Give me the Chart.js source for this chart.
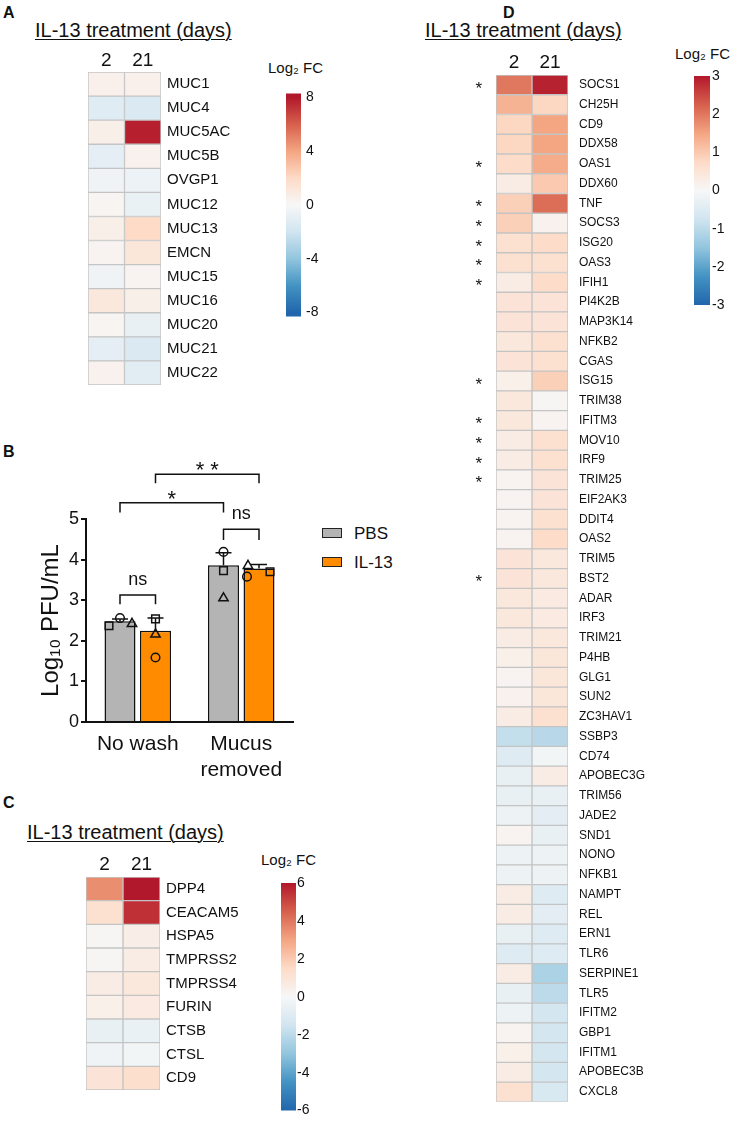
<!DOCTYPE html>
<html>
<head>
<meta charset="utf-8">
<script src="https://cdn.jsdelivr.net/npm/chart.js@4.4.1/dist/chart.umd.min.js"></script>
<style>
  body { margin: 0; background: #fff; width: 737px; height: 1133px; position: relative; overflow: hidden;
         font-family: "Liberation Sans", Arial, Helvetica, sans-serif; color: #111; }
  canvas { position: absolute; }
  .txt { position: absolute; white-space: nowrap; line-height: 1; }
  .panel { font-weight: bold; font-size: 16px; }
  .title { font-size: 20px; text-decoration: underline; text-underline-offset: 2px; text-decoration-thickness: 1px; }
  .fc { font-size: 15px; }
  .key { position: absolute; width: 18px; height: 8px; border: 1.5px solid #222; }
</style>
</head>
<body>
<div class="txt panel" style="left:3px;top:5px">A</div>
<div class="txt title" style="left:35px;top:20px">IL-13 treatment (days)</div>
<div class="txt fc" style="left:268px;top:60px">Log₂ FC</div>

<div class="txt panel" style="left:3px;top:444px">B</div>
<div class="key" style="left:322px;top:528px;background:#b4b4b4"></div>
<div class="txt" style="left:354px;top:525px;font-size:17px">PBS</div>
<div class="key" style="left:322px;top:557px;background:#ff8c00"></div>
<div class="txt" style="left:354px;top:554px;font-size:17px">IL-13</div>

<div class="txt panel" style="left:3px;top:795px">C</div>
<div class="txt title" style="left:27px;top:822px">IL-13 treatment (days)</div>
<div class="txt fc" style="left:261px;top:852px">Log₂ FC</div>

<div class="txt panel" style="left:503px;top:5px">D</div>
<div class="txt title" style="left:425px;top:20px">IL-13 treatment (days)</div>
<div class="txt fc" style="left:675px;top:46px">Log₂ FC</div>

<canvas id="heatA" width="260" height="400" style="left:0;top:0"></canvas>
<canvas id="barA" width="70" height="250" style="left:270px;top:80px"></canvas>
<canvas id="chartB" width="300" height="350" style="left:0;top:440px"></canvas>
<canvas id="heatC" width="260" height="305" style="left:0;top:800px"></canvas>
<canvas id="barC" width="70" height="250" style="left:265px;top:870px"></canvas>
<canvas id="heatD" width="300" height="1126" style="left:430px;top:0"></canvas>
<canvas id="barD" width="57" height="260" style="left:680px;top:60px"></canvas>

<script>
// Column labels (days of IL-13 treatment)
const days = ["2", "21"];

// Panel A: mucin genes, log2 fold change
const genesA = ["MUC1", "MUC4", "MUC5AC", "MUC5B", "OVGP1", "MUC12", "MUC13", "EMCN", "MUC15", "MUC16", "MUC20", "MUC21", "MUC22"];
const fcA2 = [0.5, -1.2, 0.6, -1.0, -0.4, 0.2, 0.6, 0.3, -0.4, 1.1, 0.2, -1.0, 0.4];
const fcA21 = [0.5, -1.5, 7.8, 0.4, -0.6, -0.7, 2.0, 1.2, 0.3, 0.6, -0.8, -1.5, -1.1];
const ticksA = [-8, -4, 0, 4, 8];

// Panel B: virus titre per condition
const groups = ["No wash", ["Mucus", "removed"]];
const pbsMean = [2.48, 3.86];
const il13Mean = [2.25, 3.78];
const pbsSd = [0.06, 0.31];
const il13Sd = [0.31, 0.10];
// donor points, order: square, circle, triangle
const donorShapes = ["rect", "circle", "triangle"];
const pbsPoints = [[2.37, 2.56, 2.42], [3.73, 4.19, 3.05]];
const il13Points = [[2.54, 1.59, 2.16], [3.70, 3.58, 3.85]];
const brackets = [
  { from: [0, 0], to: [1, 0], y: 3.13, drop: 0.23, text: "ns" },
  { from: [0, 0], to: [0, 1], y: 5.40, drop: 0.24, text: "*" },
  { from: [1, 0], to: [1, 1], y: 6.10, drop: 0.22, text: "* *" },
  { from: [0, 1], to: [1, 1], y: 4.75, drop: 0.27, text: "ns" },
];

// Panel C: entry factors
const genesC = ["DPP4", "CEACAM5", "HSPA5", "TMPRSS2", "TMPRSS4", "FURIN", "CTSB", "CTSL", "CD9"];
const fcC2 = [3.5, 1.2, 0.1, 0.1, 0.6, 0.4, -0.6, -0.3, 1.0];
const fcC21 = [6.0, 5.5, 0.5, 0.6, 0.8, 0.7, -0.5, -0.2, 1.3];
const ticksC = [-6, -4, -2, 0, 2, 4, 6];

// Panel D: innate immune genes
const genesD = ["SOCS1", "CH25H", "CD9", "DDX58", "OAS1", "DDX60", "TNF", "SOCS3", "ISG20", "OAS3", "IFIH1",
  "PI4K2B", "MAP3K14", "NFKB2", "CGAS", "ISG15", "TRIM38", "IFITM3", "MOV10", "IRF9", "TRIM25", "EIF2AK3",
  "DDIT4", "OAS2", "TRIM5", "BST2", "ADAR", "IRF3", "TRIM21", "P4HB", "GLG1", "SUN2", "ZC3HAV1", "SSBP3",
  "CD74", "APOBEC3G", "TRIM56", "JADE2", "SND1", "NONO", "NFKB1", "NAMPT", "REL", "ERN1", "TLR6",
  "SERPINE1", "TLR5", "IFITM2", "GBP1", "IFITM1", "APOBEC3B", "CXCL8"];
const fcD2 = [2.0, 1.3, 0.8, 0.8, 0.7, 0.3, 0.9, 0.9, 0.6, 0.6, 0.3,
  0.5, 0.5, 0.4, 0.5, 0.2, 0.4, 0.4, 0.3, 0.3, 0.1, 0.1,
  0.1, 0.1, 0.5, 0.5, 0.4, 0.4, 0.3, 0.2, 0.1, 0.15, 0.3, -0.9,
  -0.5, -0.3, -0.3, -0.2, 0.1, -0.2, -0.2, 0.3, 0.3, -0.3, -0.5,
  0.3, -0.3, -0.2, 0.1, 0.2, 0.3, 0.6];
const fcD21 = [2.9, 0.8, 1.5, 1.5, 1.4, 1.0, 2.1, 0.15, 0.7, 0.6, 0.7,
  0.5, 0.5, 0.6, 0.6, 0.9, 0.05, 0.1, 0.6, 0.6, 0.5, 0.5,
  0.6, 0.7, 0.4, 0.4, 0.35, 0.35, 0.4, 0.45, 0.45, 0.45, 0.6, -1.05,
  -0.1, 0.3, -0.3, -0.4, -0.3, -0.2, -0.2, -0.5, -0.4, -0.5, -0.5,
  -1.2, -1.0, -0.7, -0.7, -0.7, -0.7, -0.6];
const sigD = ["SOCS1", "OAS1", "TNF", "SOCS3", "ISG20", "OAS3", "IFIH1", "ISG15", "IFITM3", "MOV10", "IRF9", "TRIM25", "BST2"];
const ticksD = [-3, -2, -1, 0, 1, 2, 3];

// Diverging red-blue palette
const RDBU = [[33, 102, 172], [67, 147, 195], [146, 197, 222], [209, 229, 240], [247, 247, 247],
  [253, 219, 199], [244, 165, 130], [214, 96, 77], [178, 24, 43]];

const INK = "#111";
const FONT = '"Liberation Sans", Arial, Helvetica, sans-serif';
Chart.defaults.font.family = FONT;
Chart.defaults.color = INK;
Chart.defaults.animation = false;
Chart.defaults.responsive = false;
Chart.defaults.plugins.legend.display = false;
Chart.defaults.plugins.tooltip.enabled = false;

const HIDDEN_GRID = { display: false, drawTicks: false };

const heatColor = (v, vmax) => {
  const t = Math.max(-1, Math.min(1, v / vmax));
  const p = ((t + 1) / 2) * (RDBU.length - 1);
  const i = Math.min(Math.floor(p), RDBU.length - 2);
  const f = p - i;
  const c = RDBU[i].map((a, k) => Math.round(a + (RDBU[i + 1][k] - a) * f));
  return `rgb(${c.join(",")})`;
};

// Heatmap as stacked horizontal bars, one cell per gene and day
const heatmap = (id, genes, cols, vmax, cfg) => {
  const scales = {
    x: {
      type: "linear", position: "top", stacked: true, min: 0, max: 2,
      afterBuildTicks: (s) => { s.ticks = [{ value: 0.5 }, { value: 1.5 }]; },
      afterFit: (s) => { s.height = cfg.top; },
      grid: HIDDEN_GRID, border: { display: false },
      ticks: { callback: (v, i) => days[i], font: { size: 19 }, padding: cfg.dayPad, maxRotation: 0 },
    },
    y: {
      type: "category", position: "right", stacked: true, offset: true,
      afterFit: (s) => { s.width = cfg.labelWidth; },
      grid: HIDDEN_GRID, border: { display: false },
      ticks: { autoSkip: false, font: { size: cfg.geneFont }, padding: cfg.genePad },
    },
  };
  if (cfg.stars) {
    scales.yl = {
      type: "category", labels: genes, position: "left", offset: true,
      afterFit: (s) => { s.width = cfg.left; },
      grid: HIDDEN_GRID, border: { display: false },
      ticks: { autoSkip: false, padding: 14, labelOffset: 4, font: { size: 17 },
        callback: (v, i) => (cfg.stars.includes(genes[i]) ? "*" : "") },
    };
  }
  return new Chart(document.getElementById(id), {
    type: "bar",
    data: {
      labels: genes,
      datasets: cols.map((vals, k) => ({
        label: days[k],
        data: genes.map(() => 1),
        backgroundColor: vals.map((v) => heatColor(v, vmax)),
        borderColor: "#c4c4c4",
        borderWidth: 1,
        borderSkipped: false,
        barPercentage: 1,
        categoryPercentage: 1,
      })),
    },
    options: {
      indexAxis: "y",
      layout: { padding: { left: cfg.stars ? 0 : cfg.left, top: 0, right: 0, bottom: 3 } },
      scales,
    },
  });
};

// Colour scale bar: one floating bar filled with the palette gradient
const colorbar = (id, vmax, range, ticks, cfg) =>
  new Chart(document.getElementById(id), {
    type: "bar",
    data: {
      labels: [""],
      datasets: [{
        data: [[-range, range]],
        borderWidth: 0,
        barPercentage: 1,
        categoryPercentage: 1,
        backgroundColor: (c) => {
          const ch = c.chart;
          const y = ch.scales.y;
          if (!ch.chartArea || !y) return "#f7f7f7";
          const g = ch.ctx.createLinearGradient(0, y.getPixelForValue(-vmax), 0, y.getPixelForValue(vmax));
          RDBU.forEach((col, i) => g.addColorStop(i / (RDBU.length - 1), `rgb(${col.join(",")})`));
          return g;
        },
      }],
    },
    options: {
      layout: { padding: { left: cfg.left, top: cfg.top, bottom: cfg.bottom, right: 0 } },
      scales: {
        x: { display: false },
        y: {
          position: "right", min: -range, max: range,
          afterBuildTicks: (s) => { s.ticks = ticks.map((value) => ({ value })); },
          afterFit: (s) => { s.width = cfg.width; },
          grid: HIDDEN_GRID, border: { display: false },
          ticks: { font: { size: 14 }, padding: cfg.pad },
        },
      },
    },
  });

// Panel B: horizontal pixel jitter of the donor markers around each bar centre
const MARKER_JITTER = [
  [[-11, 0, 12], [0, 0, 0]],
  [[0, 0, 0], [11, -12, -11]],
];

const donorMarkers = {
  id: "donorMarkers",
  afterDatasetsDraw(chart) {
    const { ctx, scales: { y } } = chart;
    ctx.save();
    ctx.strokeStyle = INK;
    ctx.fillStyle = "rgba(0,0,0,0)";
    ctx.lineWidth = 1.5;
    [pbsPoints, il13Points].forEach((pts, d) => {
      const bars = chart.getDatasetMeta(d).data;
      pts.forEach((grp, g) => grp.forEach((v, k) => {
        const shape = donorShapes[k];
        Chart.helpers.drawPoint(ctx, { pointStyle: shape, radius: shape === "circle" ? 4.3 : 5.4, borderWidth: 1.5 },
          bars[g].x + MARKER_JITTER[d][g][k], y.getPixelForValue(v));
      }));
    });
    ctx.restore();
  },
};

const errorBars = {
  id: "errorBars",
  afterDatasetsDraw(chart) {
    const { ctx, scales: { y } } = chart;
    ctx.save();
    ctx.strokeStyle = INK;
    ctx.lineWidth = 1.5;
    [pbsSd, il13Sd].forEach((sd, d) => {
      chart.getDatasetMeta(d).data.forEach((bar, i) => {
        const top = y.getPixelForValue(chart.data.datasets[d].data[i] + sd[i]);
        ctx.beginPath();
        ctx.moveTo(bar.x, bar.y);
        ctx.lineTo(bar.x, top);
        ctx.moveTo(bar.x - 8, top);
        ctx.lineTo(bar.x + 8, top);
        ctx.stroke();
      });
    });
    ctx.restore();
  },
};

const sigBrackets = {
  id: "sigBrackets",
  afterDraw(chart) {
    const { ctx, scales: { y } } = chart;
    ctx.save();
    ctx.strokeStyle = INK;
    ctx.fillStyle = INK;
    ctx.lineWidth = 1.5;
    ctx.textAlign = "center";
    brackets.forEach((b) => {
      const x1 = chart.getDatasetMeta(b.from[0]).data[b.from[1]].x;
      const x2 = chart.getDatasetMeta(b.to[0]).data[b.to[1]].x;
      const yt = y.getPixelForValue(b.y);
      const yb = y.getPixelForValue(b.y - b.drop);
      ctx.beginPath();
      ctx.moveTo(x1, yb);
      ctx.lineTo(x1, yt);
      ctx.lineTo(x2, yt);
      ctx.lineTo(x2, yb);
      ctx.stroke();
      const star = b.text !== "ns";
      ctx.font = `${star ? 22 : 18}px ${FONT}`;
      ctx.fillText(b.text, (x1 + x2) / 2, yt + (star ? 3 : -10));
    });
    ctx.restore();
  },
};

heatmap("heatA", genesA, [fcA2, fcA21], 8, { top: 72, left: 88, labelWidth: 99, geneFont: 15, genePad: 6, dayPad: 0 });
colorbar("barA", 8, 8.3, ticksA, { left: 16, top: 9, bottom: 11, width: 39, pad: 5 });

new Chart(document.getElementById("chartB"), {
  type: "bar",
  data: {
    labels: groups,
    datasets: [
      { label: "PBS", data: pbsMean, backgroundColor: "#b4b4b4", borderColor: INK, borderWidth: 1.5,
        categoryPercentage: 0.686, barPercentage: 0.873 },
      { label: "IL-13", data: il13Mean, backgroundColor: "#ff8c00", borderColor: INK, borderWidth: 1.5,
        categoryPercentage: 0.686, barPercentage: 0.873 },
    ],
  },
  options: {
    layout: { padding: { left: 33, top: 79, right: 7, bottom: 0 } },
    scales: {
      x: {
        type: "category",
        grid: HIDDEN_GRID,
        border: { display: true, color: INK, width: 2 },
        ticks: { font: { size: 21 }, padding: 10, maxRotation: 0, autoSkip: false },
        afterFit: (s) => { s.height = 68; },
      },
      y: {
        min: 0, max: 5,
        ticks: { stepSize: 1, font: { size: 18 }, padding: 2 },
        grid: { display: true, drawOnChartArea: false, drawTicks: true, tickLength: 5, color: INK, lineWidth: 2 },
        border: { display: true, color: INK, width: 2 },
        title: { display: true, text: "Log₁₀ PFU/mL", font: { size: 24 }, padding: { top: 4, bottom: 0 } },
        afterFit: (s) => { s.width = 53; },
      },
    },
  },
  plugins: [donorMarkers, errorBars, sigBrackets],
});

heatmap("heatC", genesC, [fcC2, fcC21], 6, { top: 77, left: 86, labelWidth: 100, geneFont: 15, genePad: 6, dayPad: 1 });
colorbar("barC", 6, 6, ticksC, { left: 16, top: 13, bottom: 9, width: 39, pad: 1 });

heatmap("heatD", genesD, [fcD2, fcD21], 3, { top: 75, left: 66, labelWidth: 162, geneFont: 12, genePad: 11, dayPad: 1, stars: sigD });
colorbar("barD", 3, 3, ticksD, { left: 14, top: 16, bottom: 15, width: 27, pad: 2 });
</script>
</body>
</html>
